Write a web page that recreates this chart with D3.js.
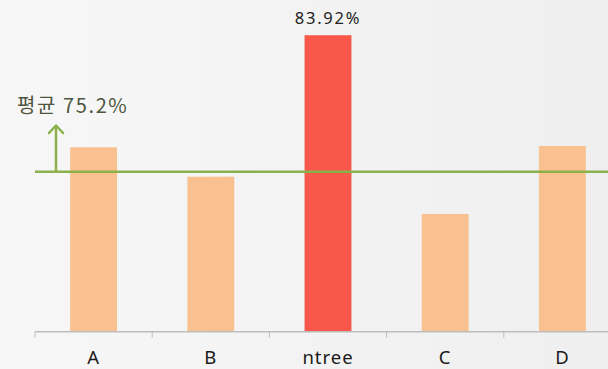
<!DOCTYPE html>
<html>
<head>
<meta charset="utf-8">
<script src="https://cdn.jsdelivr.net/npm/d3@7"></script>
<style>
  html, body { margin: 0; padding: 0; }
  svg { display: block; }
</style>
</head>
<body>
<svg id="chart" width="608" height="369"></svg>
<script>
// Accuracy by model (%)
const categories = ["A", "B", "ntree", "C", "D"];
const values = [76.77, 74.89, 83.92, 72.51, 76.85];
const highlight = "ntree";
const averageValue = 75.2;
const averageLabel = "평균 75.2%";

const W = 608, H = 369;
const svg = d3.select("#chart");

// soft grey backdrop
const defs = svg.append("defs");
const grad = defs.append("linearGradient").attr("id", "bg").attr("x1", 0).attr("x2", 1).attr("y1", 0).attr("y2", 0);
grad.append("stop").attr("offset", 0).attr("stop-color", "#f7f7f7");
grad.append("stop").attr("offset", 1).attr("stop-color", "#efefef");
svg.append("rect").attr("width", W).attr("height", H).attr("fill", "url(#bg)");

const x = d3.scaleBand().domain(categories).range([35, 621]).padding(0);
const y = d3.scaleLinear().domain([65, 85]).range([331.7, 18.3]);

const bw = x.bandwidth();

// bars
svg.append("g").selectAll("rect").data(categories).join("rect")
  .attr("x", d => x(d) + bw * 0.3)
  .attr("width", bw * 0.4)
  .attr("y", (d, i) => y(values[i]))
  .attr("height", (d, i) => y.range()[0] - y(values[i]))
  .attr("fill", d => d === highlight ? "#f9574a" : "#f9c190");

// value label on the highlighted bar
const hi = categories.indexOf(highlight);
svg.append("text")
  .attr("x", x(highlight) + bw / 2)
  .attr("y", y(values[hi]) - 11)
  .attr("text-anchor", "middle")
  .attr("font-family", "'Noto Sans', sans-serif")
  .attr("font-size", 16.5)
  .attr("letter-spacing", 1.8)
  .attr("fill", "#222")
  .text(d3.format(".2f")(values[hi]) + "%");

// x axis: baseline with boundary ticks and category labels
const axisY = y.range()[0];
const ax = svg.append("g");
ax.append("line")
  .attr("x1", 35).attr("x2", W)
  .attr("y1", axisY).attr("y2", axisY)
  .attr("stroke", "#bdbdbd").attr("stroke-width", 1.5);
ax.selectAll("line.tick").data(categories).join("line")
  .attr("class", "tick")
  .attr("x1", d => x(d)).attr("x2", d => x(d))
  .attr("y1", axisY).attr("y2", axisY + 6)
  .attr("stroke", "#bdbdbd").attr("stroke-width", 1);

const xAxis = d3.axisBottom(x).tickSize(0).tickPadding(0);
const xg = svg.append("g").attr("transform", `translate(0,${axisY})`).call(xAxis);
xg.select(".domain").remove();
xg.selectAll("text")
  .attr("dy", null)
  .attr("y", 32.5)
  .attr("font-family", "'Noto Sans', sans-serif")
  .attr("font-size", 18.5)
  .attr("letter-spacing", 1)
  .attr("fill", "#1a1a1a");

// average reference line with upward arrow
const avgY = y(averageValue);
const green = "#8cb04b";
svg.append("line")
  .attr("x1", 35).attr("x2", W)
  .attr("y1", avgY).attr("y2", avgY)
  .attr("stroke", green).attr("stroke-width", 2.5);

const arrowX = 56;
svg.append("line")
  .attr("x1", arrowX).attr("x2", arrowX)
  .attr("y1", avgY).attr("y2", 126)
  .attr("stroke", green).attr("stroke-width", 2.5);
svg.append("path")
  .attr("d", `M${arrowX - 7},${133} L${arrowX},${125.5} L${arrowX + 7},${133}`)
  .attr("fill", "none")
  .attr("stroke", green).attr("stroke-width", 2.5)
  .attr("stroke-linecap", "round").attr("stroke-linejoin", "round");

svg.append("text")
  .attr("x", 17)
  .attr("y", 113)
  .attr("font-family", "'Noto Sans CJK KR', 'Noto Sans', sans-serif")
  .attr("font-size", 20)
  .attr("letter-spacing", 1.6)
  .attr("fill", "#4f5640")
  .text(averageLabel);
</script>
</body>
</html>
